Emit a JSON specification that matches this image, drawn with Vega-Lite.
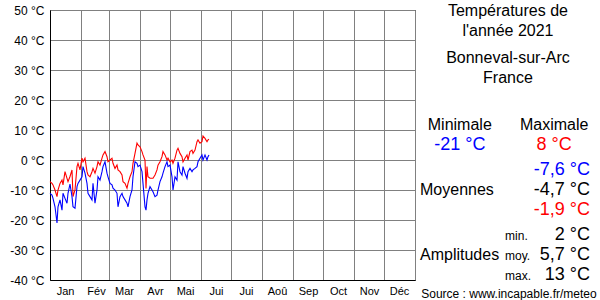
{
  "$schema": "https://vega.github.io/schema/vega-lite/v6.json",
  "width": 365,
  "height": 270,
  "autosize": {"type": "none"},
  "padding": {"left": 50, "top": 10, "right": 185, "bottom": 20},
  "background": "white",
  "config": {
    "font": "Liberation Sans",
    "view": {"stroke": "#000000", "strokeWidth": 1},
    "axis": {"labelOverlap": false, "labelBound": false}
  },
  "datasets": {
    "temps": [
      {"date": "2021-01-01", "tmin": -11.1, "tmax": -7.2},
      {"date": "2021-01-03", "tmin": -11.7, "tmax": -7.8},
      {"date": "2021-01-04", "tmin": -12.8, "tmax": -8.3},
      {"date": "2021-01-06", "tmin": -15.6, "tmax": -10},
      {"date": "2021-01-08", "tmin": -21, "tmax": -12.2},
      {"date": "2021-01-09", "tmin": -15.6, "tmax": -10},
      {"date": "2021-01-11", "tmin": -13.3, "tmax": -7.8},
      {"date": "2021-01-13", "tmin": -16.7, "tmax": -6.7},
      {"date": "2021-01-14", "tmin": -11.1, "tmax": -8.3},
      {"date": "2021-01-16", "tmin": -12.8, "tmax": -3.9},
      {"date": "2021-01-18", "tmin": -14.4, "tmax": -6.1},
      {"date": "2021-01-19", "tmin": -11.1, "tmax": -7.2},
      {"date": "2021-01-21", "tmin": -8, "tmax": -5.5},
      {"date": "2021-01-23", "tmin": -12.2, "tmax": -3.3},
      {"date": "2021-01-24", "tmin": -15.6, "tmax": -12.2},
      {"date": "2021-01-26", "tmin": -16.1, "tmax": -10},
      {"date": "2021-01-28", "tmin": -8.9, "tmax": -2.2},
      {"date": "2021-01-29", "tmin": -7.8, "tmax": -1.1},
      {"date": "2021-01-31", "tmin": -6.7, "tmax": -3.3},
      {"date": "2021-02-02", "tmin": -5.6, "tmax": 0.6},
      {"date": "2021-02-03", "tmin": -2.2, "tmax": -0.6},
      {"date": "2021-02-05", "tmin": -4.4, "tmax": 0.6},
      {"date": "2021-02-07", "tmin": -7.8, "tmax": -3.9},
      {"date": "2021-02-08", "tmin": -11.1, "tmax": -5},
      {"date": "2021-02-10", "tmin": -12.2, "tmax": -5.6},
      {"date": "2021-02-12", "tmin": -13.3, "tmax": -3.9},
      {"date": "2021-02-13", "tmin": -7.8, "tmax": -2.8},
      {"date": "2021-02-15", "tmin": -14.4, "tmax": -4.4},
      {"date": "2021-02-17", "tmin": -10, "tmax": -2.2},
      {"date": "2021-02-18", "tmin": -5.6, "tmax": -0.6},
      {"date": "2021-02-20", "tmin": -6.7, "tmax": -1.7},
      {"date": "2021-02-22", "tmin": -3.9, "tmax": 0.6},
      {"date": "2021-02-23", "tmin": -2.2, "tmax": 1.7},
      {"date": "2021-02-25", "tmin": -0.6, "tmax": 2.8},
      {"date": "2021-02-27", "tmin": -4.4, "tmax": 1.1},
      {"date": "2021-02-28", "tmin": -5.6, "tmax": -0.6},
      {"date": "2021-03-02", "tmin": -7.8, "tmax": 0},
      {"date": "2021-03-04", "tmin": -8.3, "tmax": 0.6},
      {"date": "2021-03-05", "tmin": -9.4, "tmax": -1.1},
      {"date": "2021-03-07", "tmin": -10, "tmax": -2.8},
      {"date": "2021-03-09", "tmin": -11.1, "tmax": -1.7},
      {"date": "2021-03-10", "tmin": -15.6, "tmax": -3.3},
      {"date": "2021-03-12", "tmin": -12.2, "tmax": -3.9},
      {"date": "2021-03-14", "tmin": -11.1, "tmax": -5},
      {"date": "2021-03-15", "tmin": -12.2, "tmax": -7.2},
      {"date": "2021-03-17", "tmin": -13.3, "tmax": -7.8},
      {"date": "2021-03-19", "tmin": -14.4, "tmax": -9.4},
      {"date": "2021-03-20", "tmin": -15.6, "tmax": -7.8},
      {"date": "2021-03-22", "tmin": -12.2, "tmax": -5.6},
      {"date": "2021-03-24", "tmin": -10, "tmax": -3.9},
      {"date": "2021-03-25", "tmin": -5.6, "tmax": -1.1},
      {"date": "2021-03-27", "tmin": -0.6, "tmax": 2.2},
      {"date": "2021-03-29", "tmin": -1.1, "tmax": 5.6},
      {"date": "2021-03-30", "tmin": -2.2, "tmax": 5},
      {"date": "2021-04-01", "tmin": -1.7, "tmax": 4.4},
      {"date": "2021-04-03", "tmin": -3.9, "tmax": 2.8},
      {"date": "2021-04-04", "tmin": -7.8, "tmax": 1.7},
      {"date": "2021-04-06", "tmin": -15.6, "tmax": 0},
      {"date": "2021-04-07", "tmin": -16.7, "tmax": -9.5},
      {"date": "2021-04-08", "tmin": -13.3, "tmax": -2.2},
      {"date": "2021-04-09", "tmin": -11.1, "tmax": -5.6},
      {"date": "2021-04-11", "tmin": -8.9, "tmax": -6.1},
      {"date": "2021-04-13", "tmin": -10, "tmax": -6.1},
      {"date": "2021-04-14", "tmin": -10.6, "tmax": -6.1},
      {"date": "2021-04-16", "tmin": -12.2, "tmax": -5},
      {"date": "2021-04-18", "tmin": -11.7, "tmax": -3.3},
      {"date": "2021-04-19", "tmin": -10, "tmax": -1.7},
      {"date": "2021-04-21", "tmin": -7.2, "tmax": -0.6},
      {"date": "2021-04-23", "tmin": -5.6, "tmax": 1.1},
      {"date": "2021-04-24", "tmin": -4.4, "tmax": 2.8},
      {"date": "2021-04-26", "tmin": -2.2, "tmax": 1.7},
      {"date": "2021-04-28", "tmin": -0.6, "tmax": 0},
      {"date": "2021-04-29", "tmin": -2.2, "tmax": 0.6},
      {"date": "2021-05-01", "tmin": -1.7, "tmax": -0.6},
      {"date": "2021-05-03", "tmin": -5.6, "tmax": 0},
      {"date": "2021-05-04", "tmin": -10, "tmax": -1.1},
      {"date": "2021-05-06", "tmin": -5.6, "tmax": 0.6},
      {"date": "2021-05-08", "tmin": -6.7, "tmax": 3.3},
      {"date": "2021-05-09", "tmin": -0.6, "tmax": 3.9},
      {"date": "2021-05-11", "tmin": -3.9, "tmax": 2.2},
      {"date": "2021-05-13", "tmin": -5, "tmax": 1.1},
      {"date": "2021-05-14", "tmin": -2.2, "tmax": -0.6},
      {"date": "2021-05-16", "tmin": -4.4, "tmax": 0.6},
      {"date": "2021-05-18", "tmin": -6.1, "tmax": 1.7},
      {"date": "2021-05-19", "tmin": -3.9, "tmax": 0},
      {"date": "2021-05-21", "tmin": -2.8, "tmax": 2.8},
      {"date": "2021-05-23", "tmin": -3.9, "tmax": 3.3},
      {"date": "2021-05-24", "tmin": -3.3, "tmax": 2.2},
      {"date": "2021-05-26", "tmin": -2.8, "tmax": 3.3},
      {"date": "2021-05-28", "tmin": -2.2, "tmax": 6.1},
      {"date": "2021-05-29", "tmin": -0.6, "tmax": 6.7},
      {"date": "2021-05-31", "tmin": 0.6, "tmax": 5.6},
      {"date": "2021-06-02", "tmin": 1.7, "tmax": 6.1},
      {"date": "2021-06-03", "tmin": 0, "tmax": 8},
      {"date": "2021-06-05", "tmin": 1.7, "tmax": 7.2},
      {"date": "2021-06-07", "tmin": 0, "tmax": 6.1},
      {"date": "2021-06-08", "tmin": 1.1, "tmax": 6.7},
      {"date": "2021-06-09", "tmin": 1.7, "tmax": 6.9}
    ],
    "panel": [
      {"block": "title", "row": "title1", "col": "centre", "text": "Températures de"},
      {"block": "title", "row": "title2", "col": "centre", "text": "l'année 2021"},
      {"block": "place", "row": "place", "col": "centre", "text": "Bonneval-sur-Arc"},
      {"block": "place", "row": "country", "col": "centre", "text": "France"},
      {"block": "head", "row": "head", "col": "minCol", "text": "Minimale"},
      {"block": "head", "row": "head", "col": "maxCol", "text": "Maximale"},
      {"block": "extreme", "row": "extreme", "col": "minCol", "stat": "min", "text": "-21 °C"},
      {"block": "extreme", "row": "extreme", "col": "maxCol", "stat": "max", "text": "8 °C"},
      {"block": "mean", "row": "meanMin", "col": "values", "stat": "min", "text": "-7,6 °C"},
      {"block": "mean", "row": "meanMid", "col": "values", "stat": "mean", "text": "-4,7 °C"},
      {"block": "mean", "row": "meanMax", "col": "values", "stat": "max", "text": "-1,9 °C"},
      {"block": "meanLabel", "row": "meanMid", "col": "rowLabel", "text": "Moyennes"},
      {"block": "amp", "row": "ampMin", "col": "values", "text": "2 °C"},
      {"block": "amp", "row": "ampMid", "col": "values", "text": "5,7 °C"},
      {"block": "amp", "row": "ampMax", "col": "values", "text": "13 °C"},
      {"block": "ampSub", "row": "ampMin", "col": "subLabel", "text": "min."},
      {"block": "ampSub", "row": "ampMid", "col": "subLabel", "text": "moy."},
      {"block": "ampSub", "row": "ampMax", "col": "subLabel", "text": "max."},
      {"block": "ampLabel", "row": "ampMid", "col": "rowLabel", "text": "Amplitudes"},
      {"block": "source", "row": "source", "col": "centre", "text": "Source : www.incapable.fr/meteo"}
    ]
  },
  "layer": [
    {
      "data": {"name": "temps"},
      "encoding": {
        "x": {
          "field": "date",
          "type": "temporal",
          "scale": {
            "type": "utc",
            "domain": [
              {"year": 2021, "month": 1, "date": 1, "utc": true},
              {"year": 2022, "month": 1, "date": 1, "utc": true}
            ]
          },
          "axis": {
            "title": null,
            "values": [
              {"year": 2021, "month": 1, "date": 1, "utc": true},
              {"year": 2021, "month": 2, "date": 1, "utc": true},
              {"year": 2021, "month": 3, "date": 1, "utc": true},
              {"year": 2021, "month": 4, "date": 1, "utc": true},
              {"year": 2021, "month": 5, "date": 1, "utc": true},
              {"year": 2021, "month": 6, "date": 1, "utc": true},
              {"year": 2021, "month": 7, "date": 1, "utc": true},
              {"year": 2021, "month": 8, "date": 1, "utc": true},
              {"year": 2021, "month": 9, "date": 1, "utc": true},
              {"year": 2021, "month": 10, "date": 1, "utc": true},
              {"year": 2021, "month": 11, "date": 1, "utc": true},
              {"year": 2021, "month": 12, "date": 1, "utc": true},
              {"year": 2022, "month": 1, "date": 1, "utc": true}
            ],
            "labelExpr": "['Jan','Fév','Mar','Avr','Mai','Jui','Jui','Aoû','Sep','Oct','Nov','Déc',''][utcmonth(datum.value) + (utcyear(datum.value) > 2021 ? 12 : 0)]",
            "labelOffset": 15,
            "labelFlush": false,
            "labelOverlap": false,
            "labelBound": false,
            "labelFontSize": 11,
            "labelColor": "#000000",
            "labelPadding": 5,
            "ticks": false,
            "domain": true,
            "domainColor": "#000000",
            "grid": true,
            "gridColor": "#808080",
            "gridOpacity": 1,
            "gridWidth": 1
          }
        },
        "y": {
          "type": "quantitative",
          "scale": {"domain": [-40, 50], "nice": false, "zero": false},
          "axis": {
            "title": null,
            "values": [-40, -30, -20, -10, 0, 10, 20, 30, 40, 50],
            "labelExpr": "datum.value + ' °C'",
            "labelFontSize": 12,
            "labelColor": "#000000",
            "labelPadding": 6,
            "labelOverlap": false,
            "labelBound": false,
            "labelFlush": false,
            "ticks": false,
            "domain": true,
            "domainColor": "#000000",
            "grid": true,
            "gridColor": "#808080",
            "gridOpacity": 1,
            "gridWidth": 1
          }
        }
      },
      "layer": [
        {
          "mark": {"type": "line", "color": "#ff0000", "strokeWidth": 1.1},
          "encoding": {
            "y": {"field": "tmax", "type": "quantitative", "title": null}
          }
        },
        {
          "mark": {"type": "line", "color": "#0000ff", "strokeWidth": 1.1},
          "encoding": {
            "y": {"field": "tmin", "type": "quantitative", "title": null}
          }
        }
      ]
    },
    {
      "data": {"name": "panel"},
      "encoding": {
        "x": {
          "field": "col",
          "type": "nominal",
          "scale": {
            "type": "point",
            "domain": ["rowLabel", "_a", "minCol", "_b", "subLabel", "centre", "_c", "maxCol", "_d", "values"],
            "range": [370, 540],
            "padding": 0
          },
          "axis": null
        },
        "y": {
          "field": "row",
          "type": "nominal",
          "scale": {
            "type": "point",
            "domain": ["title1", "title2", "place", "country", "_g1", "_g2", "head", "extreme", "meanMin", "meanMid", "meanMax", "ampMin", "ampMid", "ampMax", "source"],
            "range": [5, 285],
            "padding": 0
          },
          "axis": null
        },
        "text": {"field": "text", "type": "nominal"}
      },
      "layer": [
        {
          "transform": [{"filter": "datum.block == 'title'"}],
          "mark": {"type": "text", "align": "center", "baseline": "alphabetic", "fontSize": 16, "color": "#000000", "dx": -6.5, "dy": 1}
        },
        {
          "transform": [{"filter": "datum.block == 'place'"}],
          "mark": {"type": "text", "align": "center", "baseline": "alphabetic", "fontSize": 16, "color": "#000000", "dx": -6.5, "dy": 7.5}
        },
        {
          "transform": [{"filter": "datum.block == 'head'"}],
          "mark": {"type": "text", "align": "center", "baseline": "alphabetic", "fontSize": 16, "color": "#000000", "dx": 2, "dy": -5}
        },
        {
          "transform": [{"filter": "datum.block == 'extreme'"}],
          "mark": {"type": "text", "align": "center", "baseline": "alphabetic", "fontSize": 18, "dx": 2, "dy": -5},
          "encoding": {
            "color": {"field": "stat", "type": "nominal", "scale": {"domain": ["min", "mean", "max"], "range": ["#0000ff", "#000000", "#ff0000"]}, "legend": null}
          }
        },
        {
          "transform": [{"filter": "datum.block == 'mean'"}],
          "mark": {"type": "text", "align": "right", "baseline": "alphabetic", "fontSize": 18},
          "encoding": {
            "color": {"field": "stat", "type": "nominal", "scale": {"domain": ["min", "mean", "max"], "range": ["#0000ff", "#000000", "#ff0000"]}, "legend": null}
          }
        },
        {
          "transform": [{"filter": "datum.block == 'meanLabel'"}],
          "mark": {"type": "text", "align": "left", "baseline": "alphabetic", "fontSize": 16, "color": "#000000"}
        },
        {
          "transform": [{"filter": "datum.block == 'amp'"}],
          "mark": {"type": "text", "align": "right", "baseline": "alphabetic", "fontSize": 18, "color": "#000000", "dy": 5}
        },
        {
          "transform": [{"filter": "datum.block == 'ampSub'"}],
          "mark": {"type": "text", "align": "left", "baseline": "alphabetic", "fontSize": 12, "color": "#000000", "dx": 9.5, "dy": 5}
        },
        {
          "transform": [{"filter": "datum.block == 'ampLabel'"}],
          "mark": {"type": "text", "align": "left", "baseline": "alphabetic", "fontSize": 16, "color": "#000000", "dy": 5}
        },
        {
          "transform": [{"filter": "datum.block == 'source'"}],
          "mark": {"type": "text", "align": "center", "baseline": "alphabetic", "fontSize": 12, "color": "#000000", "dx": -5.5, "dy": 3}
        }
      ]
    }
  ],
  "resolve": {
    "scale": {"x": "independent", "y": "independent"}
  }
}
